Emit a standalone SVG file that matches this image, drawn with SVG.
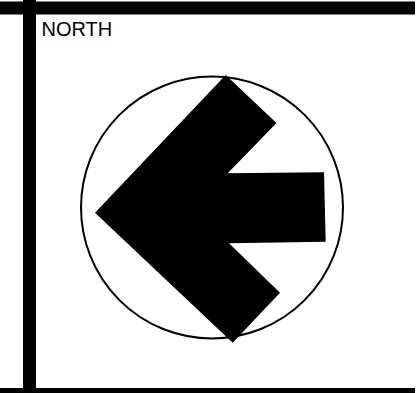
<svg xmlns="http://www.w3.org/2000/svg" width="416" height="393" viewBox="0 0 416 393">
  <style>
    .bar { stroke: #000; stroke-width: 13; fill: none; }
    .label { font-family: "Liberation Sans", Arial, sans-serif; font-size: 20px; fill: #000; }
  </style>
  <rect width="416" height="393" fill="#fff"/>
  <g id="frame">
    <line class="bar" x1="0" y1="8" x2="415" y2="8"/>
    <line class="bar" x1="0" y1="394.5" x2="415" y2="394.5"/>
    <line class="bar" x1="29.5" y1="0" x2="29.5" y2="393"/>
  </g>
  <g id="label">
    <text class="label" x="41.5" y="36">NORTH</text>
  </g>
  <g id="sign">
    <circle cx="212" cy="207.5" r="131" fill="#fff" stroke="#000" stroke-width="2"/>
    <polygon points="95,212.7 225.7,75 276.5,123 227.7,173.3 324,172.3 325.7,241.7 229,243.3 280,292.7 232.7,342.7" fill="#000"/>
  </g>
</svg>
